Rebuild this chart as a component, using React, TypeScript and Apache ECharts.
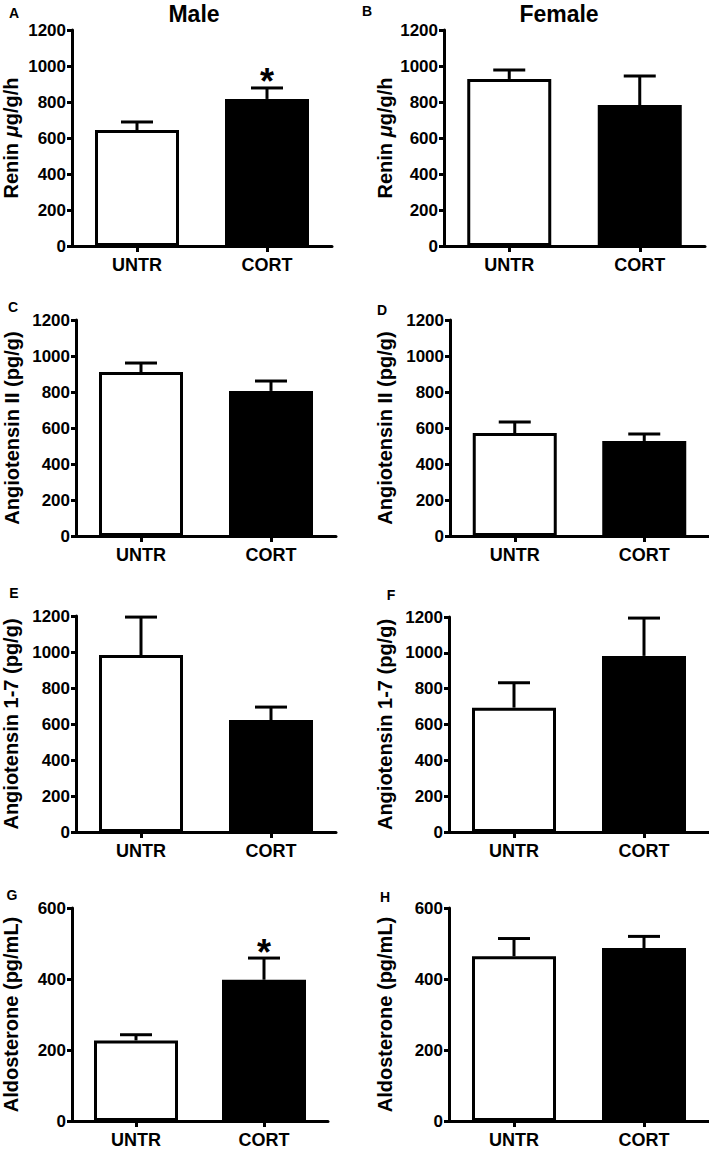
import React, { useEffect, useRef } from "react";
import * as echarts from "echarts";

const categories = ["UNTR", "CORT"];

const maleReninMean = [644, 817];
const maleReninErr = [45, 61];
const maleReninSig = [0, 1];
const femaleReninMean = [928, 783];
const femaleReninErr = [50, 161];
const femaleReninSig = [0, 0];

const maleAngIIMean = [911, 806];
const maleAngIIErr = [50, 55];
const femaleAngIIMean = [572, 528];
const femaleAngIIErr = [61, 39];

const maleAng17Mean = [983, 622];
const maleAng17Err = [211, 72];
const femaleAng17Mean = [694, 983];
const femaleAng17Err = [139, 211];

const maleAldoMean = [227, 398];
const maleAldoErr = [16, 61];
const maleAldoSig = [0, 1];
const femaleAldoMean = [464, 487];
const femaleAldoErr = [50, 33];

const noSig = [0, 0];

const reninTicks = { max: 1200, interval: 200 };
const aldoTicks = { max: 600, interval: 200 };

const panelLetters = ["A", "B", "C", "D", "E", "F", "G", "H"];
const columnTitles = ["Male", "Female"];

const FONT = "'Liberation Sans', Arial, Helvetica, sans-serif";

type Panel = {
  name: string;
  mean: number[];
  err: number[];
  sig: number[];
  scale: { max: number; interval: number };
  grid: { left: number; top: number; width: number; height: number };
  nameGap: number;
  letter: [number, number];
};

const panels: Panel[] = [
  { name: "Renin {mu|μ}g/g/h", mean: maleReninMean, err: maleReninErr, sig: maleReninSig, scale: reninTicks,
    grid: { left: 72, top: 30, width: 260, height: 216 }, nameGap: 51, letter: [14, 13] },
  { name: "Renin {mu|μ}g/g/h", mean: femaleReninMean, err: femaleReninErr, sig: femaleReninSig, scale: reninTicks,
    grid: { left: 444, top: 30, width: 261, height: 216 }, nameGap: 49, letter: [367, 11] },
  { name: "Angiotensin II (pg/g)", mean: maleAngIIMean, err: maleAngIIErr, sig: noSig, scale: reninTicks,
    grid: { left: 76, top: 320, width: 260, height: 216 }, nameGap: 54, letter: [13, 307] },
  { name: "Angiotensin II (pg/g)", mean: femaleAngIIMean, err: femaleAngIIErr, sig: noSig, scale: reninTicks,
    grid: { left: 450, top: 320, width: 259, height: 216 }, nameGap: 55, letter: [382, 310] },
  { name: "Angiotensin 1-7 (pg/g)", mean: maleAng17Mean, err: maleAng17Err, sig: noSig, scale: reninTicks,
    grid: { left: 76, top: 616, width: 260, height: 216 }, nameGap: 55, letter: [14, 593] },
  { name: "Angiotensin 1-7 (pg/g)", mean: femaleAng17Mean, err: femaleAng17Err, sig: noSig, scale: reninTicks,
    grid: { left: 449, top: 617, width: 260, height: 215 }, nameGap: 54, letter: [391, 595] },
  { name: "Aldosterone (pg/mL)", mean: maleAldoMean, err: maleAldoErr, sig: maleAldoSig, scale: aldoTicks,
    grid: { left: 72, top: 908, width: 256, height: 217 }, nameGap: 51, letter: [12, 895] },
  { name: "Aldosterone (pg/mL)", mean: femaleAldoMean, err: femaleAldoErr, sig: noSig, scale: aldoTicks,
    grid: { left: 449, top: 908, width: 260, height: 217 }, nameGap: 54, letter: [385, 897] },
];

function buildOption() {
  const grids: any[] = [];
  const xAxes: any[] = [];
  const yAxes: any[] = [];
  const series: any[] = [];
  const graphics: any[] = [];

  panels.forEach((p, i) => {
    grids.push({ ...p.grid, containLabel: false });
    xAxes.push({
      type: "category",
      gridIndex: i,
      data: categories,
      axisLine: { show: true, lineStyle: { color: "#000", width: 3 } },
      axisTick: { show: true, alignWithLabel: true, length: 6, lineStyle: { color: "#000", width: 3 } },
      axisLabel: { color: "#000", fontWeight: "bold", fontSize: 18, fontFamily: FONT, margin: 10 },
      splitLine: { show: false },
    });
    yAxes.push({
      type: "value",
      gridIndex: i,
      min: 0,
      max: p.scale.max,
      interval: p.scale.interval,
      name: p.name,
      nameLocation: "middle",
      nameRotate: 90,
      nameGap: p.nameGap,
      nameTextStyle: {
        color: "#000",
        fontWeight: "bold",
        fontSize: 20,
        fontFamily: FONT,
        rich: {
          mu: { fontStyle: "italic", fontWeight: "bold", fontSize: 20, fontFamily: FONT, color: "#000" },
        },
      },
      axisLine: { show: true, lineStyle: { color: "#000", width: 3 } },
      axisTick: { show: true, length: 5, lineStyle: { color: "#000", width: 3 } },
      axisLabel: {
        color: "#000", fontWeight: "bold", fontSize: 17, fontFamily: FONT, margin: 6,
        formatter: (v: number) => String(v),
      },
      splitLine: { show: false },
    });
    series.push({
      type: "bar",
      xAxisIndex: i,
      yAxisIndex: i,
      barWidth: 84,
      data: p.mean.map((v, k) => ({
        value: v,
        itemStyle: {
          color: k === 0 ? "#ffffff" : "#000000",
          borderColor: "#000",
          borderWidth: 3,
        },
      })),
      z: 2,
    });
    series.push({
      type: "custom",
      xAxisIndex: i,
      yAxisIndex: i,
      data: p.mean.map((v, k) => [k, v, p.err[k], p.sig[k]]),
      z: 3,
      renderItem: (params: any, api: any) => {
        const x = api.value(0);
        const v = api.value(1);
        const e = api.value(2);
        const s = api.value(3);
        const base = api.coord([x, v]);
        const top = api.coord([x, v + e]);
        const half = 16;
        const children: any[] = [
          { type: "line", shape: { x1: base[0], y1: base[1], x2: top[0], y2: top[1] }, style: { stroke: "#000", lineWidth: 3 } },
          { type: "line", shape: { x1: top[0] - half, y1: top[1], x2: top[0] + half, y2: top[1] }, style: { stroke: "#000", lineWidth: 3 } },
        ];
        if (s) {
          children.push({
            type: "text",
            x: top[0],
            y: top[1] - 6,
            style: { text: "*", fill: "#000", font: `bold 36px ${FONT}`, align: "center", verticalAlign: "middle" },
          });
        }
        return { type: "group", children };
      },
    });
    graphics.push({
      type: "text",
      x: p.letter[0],
      y: p.letter[1],
      style: { text: panelLetters[i], fill: "#000", font: `bold 14px ${FONT}`, align: "center", verticalAlign: "middle" },
    });
  });

  graphics.push({
    type: "text", x: 194, y: 14,
    style: { text: columnTitles[0], fill: "#000", font: `bold 23px ${FONT}`, align: "center", verticalAlign: "middle" },
  });
  graphics.push({
    type: "text", x: 559, y: 14,
    style: { text: columnTitles[1], fill: "#000", font: `bold 23px ${FONT}`, align: "center", verticalAlign: "middle" },
  });

  return {
    animation: false,
    backgroundColor: "#fff",
    textStyle: { fontFamily: FONT },
    grid: grids,
    xAxis: xAxes,
    yAxis: yAxes,
    series,
    graphic: graphics,
  };
}

export default function App() {
  const ref = useRef<HTMLDivElement>(null);
  useEffect(() => {
    document.body.style.margin = "0";
    if (!ref.current) return;
    const chart = echarts.init(ref.current, null, { renderer: "svg" });
    chart.setOption(buildOption() as any);
    return () => chart.dispose();
  }, []);
  return <div ref={ref} style={{ width: 709, height: 1149 }} />;
}
